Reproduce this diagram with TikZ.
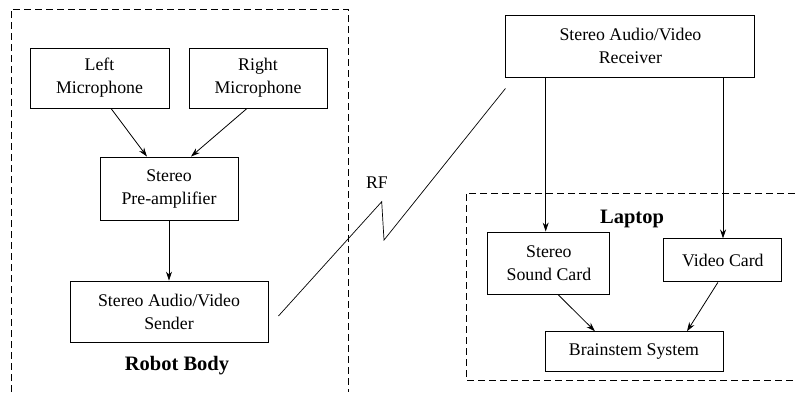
\documentclass[tikz,border=0pt]{standalone}
\usepackage{fontspec}
\setmainfont{Liberation Serif}
\usetikzlibrary{arrows.meta}

\tikzstyle{block} = [draw,line width=0.9pt,align=center,inner sep=0pt,font=\fontsize{17.8}{23}\selectfont]
\tikzstyle{boundary} = [draw,line width=0.9pt,dash pattern=on 7pt off 4pt]
\tikzstyle{link} = [draw,line width=0.8pt,-{Stealth[length=9pt,width=6pt]}]
\tikzstyle{title} = [font=\fontsize{20.5}{24}\selectfont\bfseries]

\begin{document}
\begin{tikzpicture}[x=1pt,y=-1pt]
	\useasboundingbox (0,0) rectangle (795,392);
	% the two enclosures
	\draw[boundary] (11,392) -- (11,9) -- (348,9) -- (348,392);
	\draw[boundary] (795,193) -- (466,193) -- (466,380) -- (795,380);
	\node[title] (robot) at (177,366) {Robot Body};
	\node[title] (laptop) at (632,219) {Laptop};
	% robot side
	\node[block,minimum width=139pt,minimum height=60pt] (lmic) at (99.5,78) {Left\\Microphone};
	\node[block,minimum width=138pt,minimum height=60pt] (rmic) at (258,78) {Right\\Microphone};
	\node[block,minimum width=138pt,minimum height=63pt] (preamp) at (169,188.5) {Stereo\\Pre-amplifier};
	\node[block,minimum width=198pt,minimum height=61pt] (sender) at (169,311.5) {Stereo Audio/Video\\Sender};
	% laptop side
	\node[block,minimum width=249pt,minimum height=62pt] (receiver) at (630.4,46) {Stereo Audio/Video\\Receiver};
	\node[block,minimum width=122pt,minimum height=62pt] (sound) at (548.9,263) {Stereo\\Sound Card};
	\node[block,minimum width=118pt,minimum height=43pt] (video) at (722.9,260.4) {Video Card};
	\node[block,minimum width=178pt,minimum height=40pt] (brain) at (634,351.7) {Brainstem System};
	% radio link
	\coordinate (rfa) at (381.7,201.7);
	\coordinate (rfb) at (384,240);
	\node[font=\fontsize{17.8}{20}\selectfont] (rf) at (377,183) {RF};
	\draw[line width=0.7pt] ([xshift=10pt,yshift=-4.5pt]sender.east) -- (rfa) -- (rfb) -- ([yshift=-11pt]receiver.south west);
	% signal flow
	\draw[link] ([xshift=11.5pt]lmic.south) -- ([xshift=-22pt]preamp.north);
	\draw[link] ([xshift=-11pt]rmic.south) -- ([xshift=22pt]preamp.north);
	\draw[link] (preamp) -- (sender);
	\draw[link] ([xshift=-84.7pt]receiver.south) -- ([xshift=-84.7pt]receiver.south |- sound.north);
	\draw[link] ([xshift=92.6pt]receiver.south) -- ([xshift=92.6pt]receiver.south |- video.north);
	\draw[link] ([xshift=9pt]sound.south) -- ([xshift=-39pt]brain.north);
	\draw[link] ([xshift=-5pt]video.south) -- ([xshift=53pt]brain.north);
\end{tikzpicture}
\end{document}
